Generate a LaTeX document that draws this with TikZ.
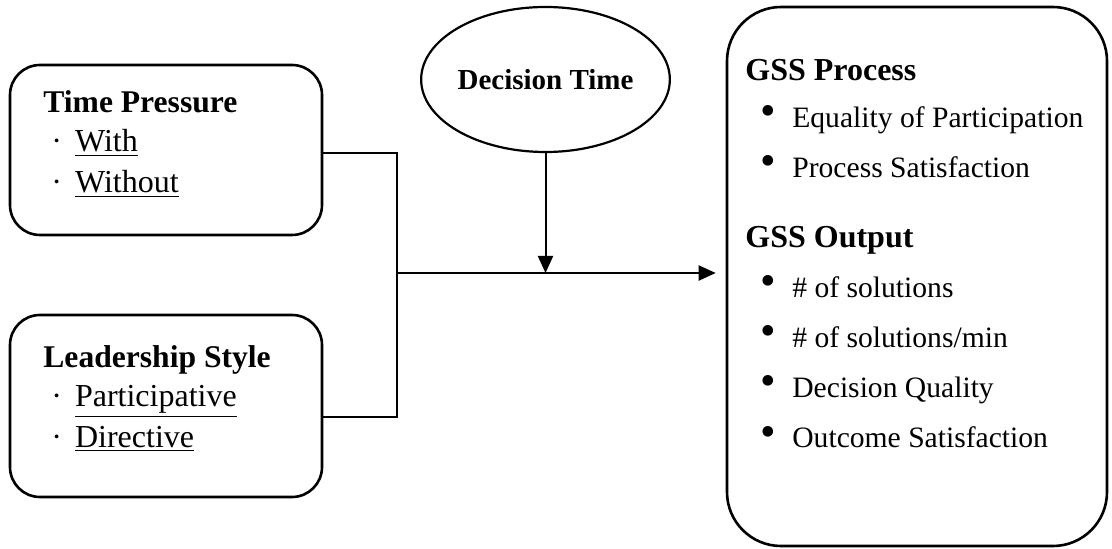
\documentclass[tikz,border=0pt]{standalone}
\usepackage{fontspec}
\setmainfont{Liberation Serif}
\usetikzlibrary{arrows.meta, positioning, calc, shapes.geometric}

\newcommand{\gbul}{\raisebox{1pt}{\scalebox{1.5}{\textbullet}}\hspace{8.2pt}}

\begin{document}
\begin{tikzpicture}[
  x=0.5pt, y=-0.5pt,
  box/.style={draw, line width=1.3pt, rounded corners=15pt, inner sep=0pt},
  head/.style={anchor=base west, inner sep=0pt, font=\fontsize{15.8}{18}\selectfont\bfseries},
  opt/.style={anchor=base west, inner sep=0pt, font=\fontsize{16}{18}\selectfont},
  ghead/.style={anchor=base west, inner sep=0pt, font=\fontsize{16}{18}\selectfont\bfseries},
  gitem/.style={anchor=base west, inner sep=0pt, font=\fontsize{14.8}{17}\selectfont},
  ln/.style={line width=1pt},
  ar/.style={line width=1pt, -{Triangle[length=8.5pt, width=7.5pt]}}]

\useasboundingbox (0,0) rectangle (1112,549);

% factor boxes on the left
\node[box, minimum width=156pt, minimum height=85pt] (tp) at (166,150) {};
\node[box, minimum width=156pt, minimum height=91pt] (ls) at (166,406) {};

\node[head] (tph) at (43,113) {Time Pressure};
\node[opt] (tp1) at (51,152) {\textperiodcentered\hspace{6.5pt}\underline{With}};
\node[opt] (tp2) at (51,193) {\textperiodcentered\hspace{6.5pt}\underline{Without}};

\node[head] (lsh) at (43,368) {Leadership Style};
\node[opt] (ls1) at (51,407) {\textperiodcentered\hspace{6.5pt}\underline{Participative}};
\node[opt] (ls2) at (51,447) {\textperiodcentered\hspace{6.5pt}\underline{Directive}};

% moderator
\node[draw, ellipse, line width=1.1pt, minimum width=97.5pt, minimum height=72.5pt,
      inner sep=0pt, font=\fontsize{14.5}{17}\selectfont\bfseries] (dt) at (545.5,79.5) {Decision Time};

% outcome box
\node[box, rounded corners=27pt, minimum width=190pt, minimum height=269.5pt] (gss) at (917,276.5) {};

\node[ghead] (gp) at (745,81) {GSS Process};
\node[gitem] (gp1) at (760,128) {\gbul Equality of Participation};
\node[gitem] (gp2) at (760,178) {\gbul Process Satisfaction};

\node[ghead] (go) at (745,248) {GSS Output};
\node[gitem] (go1) at (760,298) {\gbul\# of solutions};
\node[gitem] (go2) at (760,348) {\gbul\# of solutions/min};
\node[gitem] (go3) at (760,398) {\gbul Decision Quality};
\node[gitem] (go4) at (760,448) {\gbul Outcome Satisfaction};

% connectors
\coordinate (jn) at (397,273);
\draw[ln] ([yshift=-1.5pt]tp.east) -| (jn) |- ([yshift=-5.5pt]ls.east);
\draw[ar, shorten >=5pt] (jn) -- (jn -| gss.west);
\draw[ar] (dt) -- (dt |- jn);
\end{tikzpicture}
\end{document}
